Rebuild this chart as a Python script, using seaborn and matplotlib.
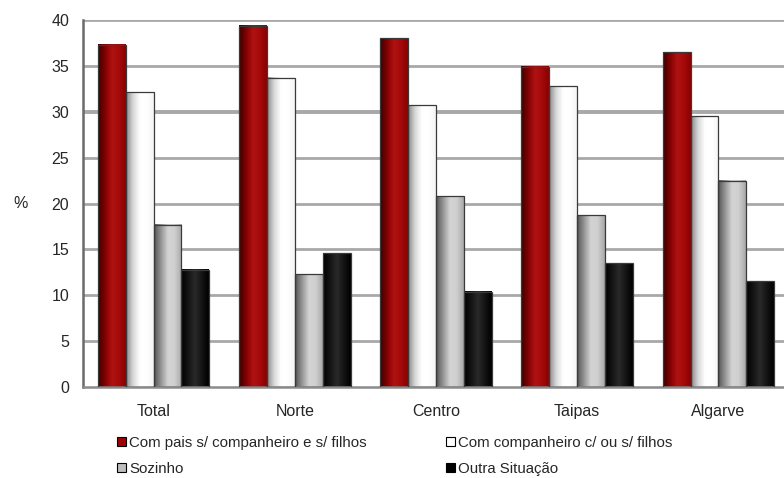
import numpy as np
import pandas as pd
import matplotlib
matplotlib.use("Agg")
import matplotlib.pyplot as plt
import seaborn as sns
from matplotlib.colors import LinearSegmentedColormap
from matplotlib.patches import Patch

# Data
regioes = ["Total", "Norte", "Centro", "Taipas", "Algarve"]
situacoes = ["Com pais s/ companheiro e s/ filhos",
             "Com companheiro c/ ou s/ filhos",
             "Sozinho",
             "Outra Situação"]
com_pais = [37.3, 39.4, 38.0, 34.9, 36.5]
com_companheiro = [32.1, 33.7, 30.7, 32.8, 29.5]
sozinho = [17.7, 12.3, 20.8, 18.7, 22.5]
outra = [12.8, 14.6, 10.4, 13.5, 11.5]

valores = [com_pais, com_companheiro, sozinho, outra]
rows = []
for sit, vals in zip(situacoes, valores):
    for reg, v in zip(regioes, vals):
        rows.append({"regiao": reg, "situacao": sit, "valor": v})
df = pd.DataFrame(rows)

base_colors = ["#9c0a0a", "#ffffff", "#bdbdbd", "#111111"]
# horizontal gradients imitating the shaded columns
gradients = [
    ["#3c0000", "#820000", "#b01212", "#a50a0a", "#8c0000"],
    ["#8a8a8a", "#d8d8d8", "#ffffff", "#ffffff", "#f4f4f4"],
    ["#555555", "#959595", "#d4d4d4", "#cfcfcf", "#a8a8a8"],
    ["#000000", "#141414", "#2a2a2a", "#141414", "#000000"],
]

sns.set_style("white")
plt.rcParams["font.family"] = ["Liberation Sans", "DejaVu Sans"]

fig = plt.figure(figsize=(7.84, 4.78), dpi=100)
ax = fig.add_axes([83 / 784, 91 / 478, 706 / 784, 367 / 478])

sns.barplot(data=df, x="regiao", y="valor", hue="situacao",
            hue_order=situacoes, order=regioes, palette=base_colors,
            width=0.79, gap=0, legend=False, ax=ax, errorbar=None)

# gradient fill over each bar
n_reg = len(regioes)
for i, patch in enumerate(ax.patches[:n_reg * len(situacoes)]):
    s = i // n_reg
    cmap = LinearSegmentedColormap.from_list("g%d" % s, gradients[s])
    x0 = patch.get_x()
    w = patch.get_width()
    h = patch.get_height()
    grad = np.linspace(0, 1, 64).reshape(1, -1)
    ax.imshow(grad, cmap=cmap, extent=[x0, x0 + w, 0, h],
              aspect="auto", zorder=2, interpolation="bicubic")
    patch.set_facecolor("none")
    patch.set_edgecolor("#3a3a3a")
    patch.set_linewidth(0.9)
    patch.set_zorder(3)

ax.set_xlim(-0.5, n_reg - 0.5)
ax.set_ylim(0, 40)
ax.set_yticks(range(0, 41, 5))

# grid lines
for yv in range(5, 41, 5):
    ax.axhline(yv, color="#a8a8a8", lw=2.0 if yv != 30 else 2.8,
               zorder=1)

ax.spines["top"].set_visible(False)
ax.spines["right"].set_visible(False)
ax.spines["left"].set_color("#6a6a6a")
ax.spines["left"].set_linewidth(1.8)
ax.spines["bottom"].set_color("#8a8a8a")
ax.spines["bottom"].set_linewidth(1.8)

ax.set_xticks(np.arange(n_reg))
ax.set_xticklabels(regioes)
ax.set_xticks(np.arange(-0.5, n_reg, 1.0), minor=True)
ax.tick_params(axis="x", which="major", length=0, labelsize=11.5, pad=12)
ax.tick_params(axis="x", which="minor", length=5, width=1.2,
               color="#222222", direction="out")
ax.tick_params(axis="y", length=5, width=1.2, color="#222222",
               labelsize=11.5, direction="out", pad=5)
ax.set_xlabel("")
ax.set_ylabel("%", rotation=0, fontsize=11.5, va="center")
ax.yaxis.set_label_coords(-0.088, 0.5)

legend_colors = ["#a00000", "#ffffff", "#bdbdbd", "#000000"]
handles = [Patch(facecolor=c, edgecolor="#000000", linewidth=0.8)
           for c in legend_colors]
# matplotlib fills legend columns first: reorder so rows read as reference
order = [0, 2, 1, 3]
fig.legend([handles[k] for k in order], [situacoes[k] for k in order],
           loc="upper left", bbox_to_anchor=(117 / 784, 1 - 436 / 478),
           ncol=2, frameon=False, fontsize=10.8, handlelength=0.6,
           handleheight=0.6, handletextpad=0.2, columnspacing=5.3,
           labelspacing=0.8, borderaxespad=0, borderpad=0)

fig.savefig("out.png", dpi=100)
